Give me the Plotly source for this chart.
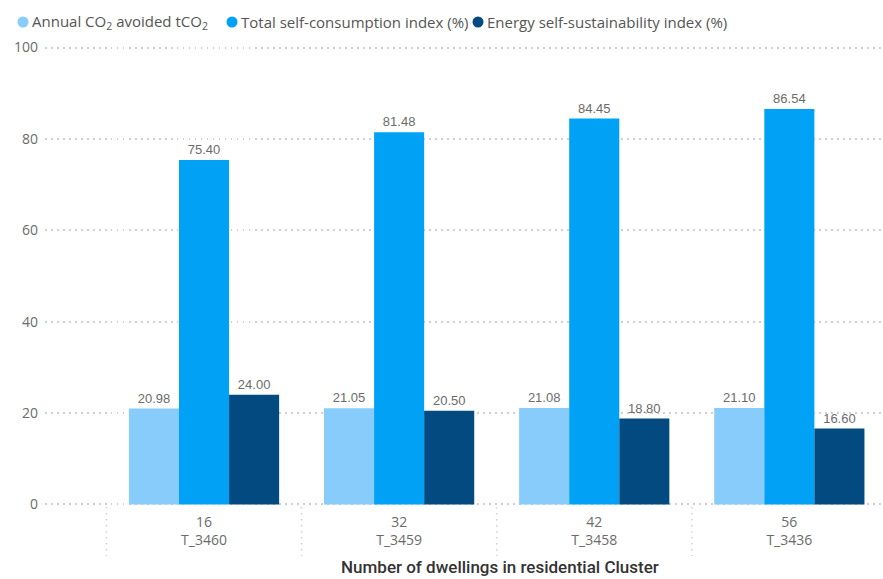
import plotly.graph_objects as go

# Residential clusters: number of dwellings and cluster code
dwellings = ["16", "32", "42", "56"]
clusters = ["T_3460", "T_3459", "T_3458", "T_3436"]

# Indicator values per cluster
co2_avoided = [20.98, 21.05, 21.08, 21.10]
self_consumption = [75.40, 81.48, 84.45, 86.54]
self_sustainability = [24.00, 20.50, 18.80, 16.60]

series_names = [
    "Annual CO<sub>2</sub> avoided tCO<sub>2</sub>",
    "Total self-consumption index (%)",
    "Energy self-sustainability index (%)",
]
series_values = [co2_avoided, self_consumption, self_sustainability]
series_colors = ["#87CCFA", "#01A2F6", "#034A80"]

y_ticks = [0, 20, 40, 60, 80, 100]

# Page geometry (pixels)
W, H = 883, 579
ML, MR, MT, MB = 45, 0, 43, 70
PW, PH = W - ML - MR, H - MT - MB


def px_x(x):
    return (x - ML) / PW


def px_y(y):
    return (H - MB - y) / PH


x_idx = list(range(len(dwellings)))
tick_text = [f"{d}<br>{c}" for d, c in zip(dwellings, clusters)]

fig = go.Figure()

for name, vals, col in zip(series_names, series_values, series_colors):
    fig.add_trace(go.Bar(
        x=x_idx, y=vals, name=name, marker_color=col, marker_line_width=0,
        text=[f"{v:.2f}" for v in vals], textposition="outside",
        textfont=dict(family="Liberation Sans, Arial", size=13, color="#6b6b6b"),
        cliponaxis=False, showlegend=False,
    ))

# Legend row: round swatch followed by its label
legend_marker_x = [23, 232, 478]
legend_y = 22
for mx, name, col in zip(legend_marker_x, series_names, series_colors):
    fig.add_shape(type="circle", xref="paper", yref="paper",
                  xsizemode="pixel", ysizemode="pixel",
                  xanchor=px_x(mx), yanchor=px_y(legend_y),
                  x0=-5.5, x1=5.5, y0=-5.5, y1=5.5,
                  fillcolor=col, line=dict(width=0))
    fig.add_annotation(text=name, xref="paper", yref="paper",
                       x=px_x(mx + 7), y=px_y(legend_y), xanchor="left",
                       yanchor="middle", showarrow=False,
                       font=dict(family="Open Sans", size=15, color="#555555"))

# Dotted separators between categories, below the axis
for b in [i - 0.5 for i in x_idx]:
    fig.add_shape(type="line", xref="x", yref="paper", x0=b, x1=b,
                  y0=px_y(507), y1=px_y(556),
                  line=dict(color="#d2d2d2", width=1.5, dash="1.5px,4.5px"))

fig.update_layout(
    width=W, height=H,
    margin=dict(l=ML, r=MR, t=MT, b=MB),
    paper_bgcolor="white", plot_bgcolor="white",
    barmode="group", bargap=0.23, bargroupgap=0,
    showlegend=False,
    font=dict(family="Open Sans, sans-serif", color="#666666"),
    xaxis=dict(
        tickmode="array", tickvals=x_idx, ticktext=tick_text,
        range=[-0.815, 3.48], showgrid=False, zeroline=False, showline=False,
        ticks="", ticklabelstandoff=3,
        tickfont=dict(family="Open Sans", size=14, color="#6b6b6b"),
    ),
    yaxis=dict(
        range=[-1, 101], tickvals=y_ticks, showgrid=True, gridcolor="#cfcfcf",
        griddash="1.5px,4.5px", gridwidth=1.5, zeroline=False, showline=False,
        ticks="", ticklabelstandoff=6,
        tickfont=dict(family="Open Sans", size=14, color="#6b6b6b"),
    ),
)

fig.add_annotation(
    text="Number of dwellings in residential Cluster", xref="paper", yref="paper",
    x=px_x(500), y=px_y(567), xanchor="center", yanchor="middle",
    showarrow=False, font=dict(family="Roboto", size=17, color="#333333", weight=500),
)

fig.write_html("out.html")
